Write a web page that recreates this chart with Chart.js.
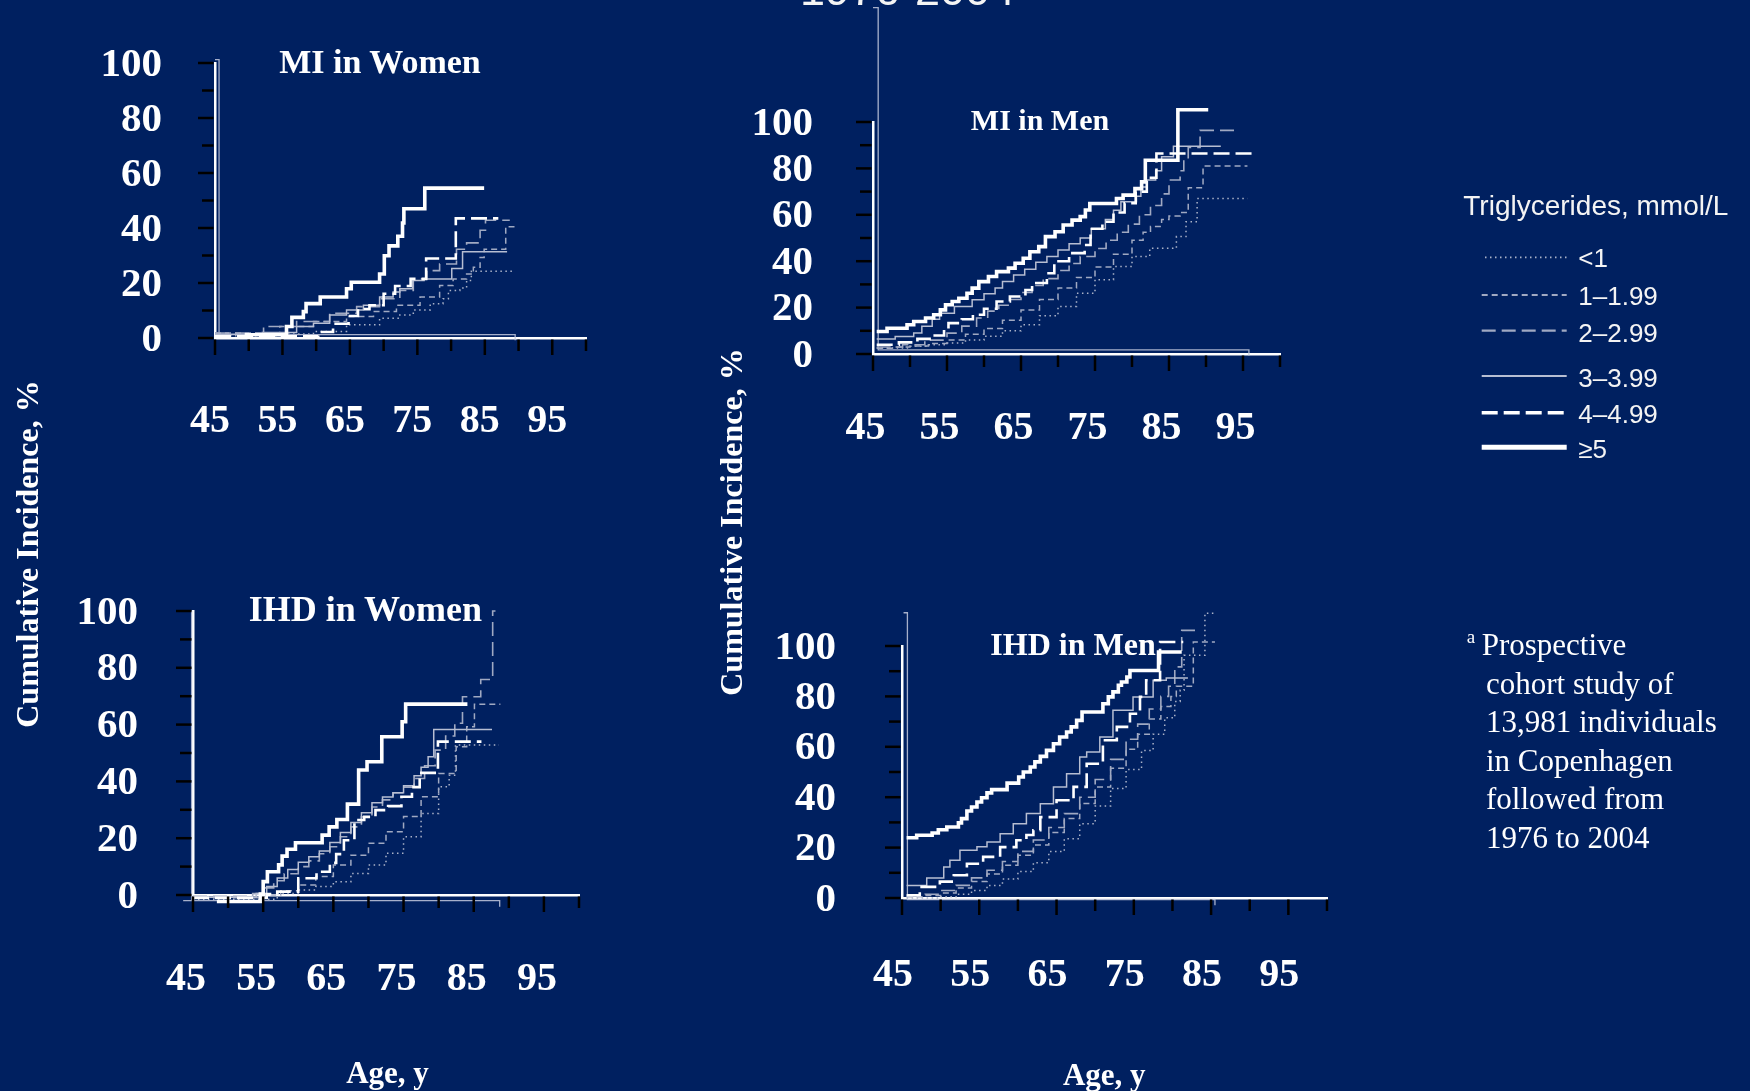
<!DOCTYPE html>
<html>
<head>
<meta charset="utf-8">
<title>Cumulative incidence of MI and IHD by triglyceride level</title>
<script src="https://cdn.jsdelivr.net/npm/chart.js@4.4.1/dist/chart.umd.min.js"></script>
<style>
  html, body { margin: 0; padding: 0; background: #002060; width: 1750px; height: 1091px; overflow: hidden; }
  canvas { position: absolute; }
  #overlay { position: absolute; left: 0; top: 0; pointer-events: none; }
  .serif { font-family: 'Liberation Serif', 'Times New Roman', serif; fill: #ffffff; }
  .bold { font-weight: bold; }
  .sans { font-family: 'Liberation Sans', Arial, sans-serif; fill: #f4f4f4; }
</style>
</head>
<body>
<canvas id="miWomen"></canvas>
<canvas id="miMen"></canvas>
<canvas id="ihdWomen"></canvas>
<canvas id="ihdMen"></canvas>

<svg id="overlay" width="1750" height="1091" viewBox="0 0 1750 1091">
  <text class="sans" x="907.5" y="5" font-size="45" text-anchor="middle">1976-2004</text>

  <text class="serif bold" x="380" y="72.7" font-size="34" text-anchor="middle">MI in Women</text>
  <text class="serif bold" x="1040" y="130" font-size="30" text-anchor="middle">MI in Men</text>
  <text class="serif bold" x="365.4" y="620.7" font-size="36" text-anchor="middle">IHD in Women</text>
  <text class="serif bold" x="1073" y="655" font-size="32" text-anchor="middle">IHD in Men</text>

  <text class="serif bold" font-size="32" text-anchor="middle" transform="translate(37.5,554) rotate(-90)">Cumulative Incidence, %</text>
  <text class="serif bold" font-size="32" text-anchor="middle" transform="translate(741.5,522) rotate(-90)">Cumulative Incidence, %</text>
  <text class="serif bold" x="387.5" y="1083.3" font-size="31" text-anchor="middle">Age, y</text>
  <text class="serif bold" x="1104.3" y="1085" font-size="31" text-anchor="middle">Age, y</text>

  <text class="sans" x="1463.3" y="215" font-size="28">Triglycerides, mmol/L</text>
  <g id="legendRows"></g>

  <text class="serif" x="1466.7" y="643" font-size="19">a</text>
  <text class="serif" x="1481.7" y="655" font-size="31">Prospective</text>
  <text class="serif" x="1486" y="693.5" font-size="31">cohort study of</text>
  <text class="serif" x="1486" y="732" font-size="31">13,981 individuals</text>
  <text class="serif" x="1486" y="770.5" font-size="31">in Copenhagen</text>
  <text class="serif" x="1486" y="809" font-size="31">followed from</text>
  <text class="serif" x="1486" y="847.5" font-size="31">1976 to 2004</text>
</svg>

<script>
// ---- tick labels and groups ----
const AGE_TICK_LABELS = [45, 55, 65, 75, 85, 95];
const PCT_TICK_LABELS = [0, 20, 40, 60, 80, 100];
const GROUP_NAMES = ['<1', '1\u20131.99', '2\u20132.99', '3\u20133.99', '4\u20134.99', '\u22655'];

// ---- MI in Women: [age, cumulative incidence %] ----
const miWomenLt1  = [[45,0.8],[55,1.5],[59.6,2.4],[64.5,4.8],[69.4,7.2],[72.4,8.4],[74.4,10.2],[76.9,12.5],[78.8,14.3],[79.6,17.3],[81.3,18.2],[82.3,20.9],[83.0,24.3],[89.4,24.3]];
const miWomen1to2 = [[45,1.8],[54.6,4.2],[59.6,6.0],[64.5,7.8],[68.5,9.6],[71.9,11.9],[75.4,14.9],[78.3,19.1],[80.3,21.5],[82.3,23.3],[83.3,25.7],[84.3,29.3],[84.9,32.3],[88.1,40.5],[89.4,40.5]];
const miWomen2to3 = [[45,1.8],[52.2,4.2],[57.1,6.0],[62.0,9.0],[66.0,11.4],[69.4,14.3],[72.4,17.3],[74.4,21.5],[76.4,24.5],[78.3,26.9],[80.8,32.3],[82.3,34.6],[84.3,39.2],[85.1,42.8],[88.7,42.8]];
const miWomen3to4 = [[45,1.4],[52,2.0],[57.1,4.2],[59.6,5.4],[62.0,8.4],[64.5,10.2],[67.0,11.9],[69.4,14.9],[71.4,16.7],[72.4,17.9],[74.3,20.9],[76.0,21.5],[80.1,25.3],[81.7,31.4],[88.3,31.4]];
const miWomen4to5 = [[45,0.6],[60.3,2.2],[62.5,5.2],[64.8,8.0],[66.2,10.5],[67.9,11.9],[70.0,16.1],[71.7,18.9],[74.0,21.5],[76.3,28.9],[80.7,43.5],[87.0,43.5]];
const miWomenGe5  = [[49.4,1.2],[55.6,4.2],[56.4,7.5],[58.1,9.6],[58.5,12.5],[60.6,14.9],[64.5,17.9],[65.2,20.3],[69.4,23.3],[70.1,29.9],[70.8,33.5],[72.1,37.0],[72.8,41.8],[73.0,47.0],[76.1,54.5],[84.9,54.5]];
const miWomenFrame = [[45.0,101.2],[45.6,101.2],[45.6,1.2],[89.5,1.2],[89.5,-0.8]];

// ---- MI in Men ----
const miMenLt1  = [[45.5,2.6],[50,3.3],[52.5,4.0],[55,4.7],[57.5,6.0],[60,7.6],[62.5,10.0],[65,12.6],[67.5,16.5],[70,20.5],[72.5,26.2],[75,32.0],[77.5,37.7],[80,42.0],[82.4,45.6],[86.0,50.6],[87.3,57.0],[88.8,67.0],[95.6,67.0]];
const miMen1to2 = [[45.5,2.5],[48,3.0],[50,3.5],[52.5,4.5],[55,6.0],[57.5,8.5],[60,11.0],[62.5,14.5],[65,19.0],[67.5,23.5],[70,28.5],[72.5,33.0],[75,37.5],[77.5,43.0],[80,49.0],[81.5,52.5],[82.5,55.0],[84,58.0],[85,59.5],[86.5,61.0],[87.6,71.7],[89.6,81.0],[95.6,81.0]];
const miMen2to3 = [[45.5,3.0],[49,4.0],[52,6.0],[55,9.0],[57,12.0],[59,15.5],[60.5,18.5],[62,21.0],[63.5,23.5],[65,26.5],[66.5,29.5],[68,32.5],[70,36.0],[71.5,39.0],[73,42.0],[75,45.5],[76.5,49.0],[78,52.5],[79.5,56.0],[81,60.0],[82.5,64.0],[84,69.0],[85,75.0],[86.5,79.0],[87,84.0],[87.6,89.0],[89.2,96.4],[94.0,96.4]];
const miMen3to4 = [[45.5,6.5],[48,7.5],[50.5,9],[51.6,12],[53,15],[54,17.6],[56,20.5],[58.4,23.4],[60,26],[61.5,28.5],[62.5,31.2],[64,34],[65.5,36.5],[67,39.5],[68.5,42],[70,44.8],[71.5,47.5],[73,50],[74.5,54],[76.4,58],[77.5,62],[78.5,65.6],[80.6,68],[81.2,72],[82,75],[83.2,79],[84,85],[85.6,89.5],[92,89.5]];
const miMen4to5 = [[45.5,4.0],[48.5,5.0],[51,6.5],[53,8.0],[54.6,10.5],[55.2,13.3],[57,15.0],[58.5,16.9],[60,19.5],[61.7,22.6],[63.5,24.8],[65.6,27.6],[66.5,30.6],[68.5,34.8],[69.5,40.0],[71.5,43.5],[73.6,47.0],[74.4,54.0],[76,57.0],[77.5,61.0],[79,65.0],[80.5,70.0],[82,76.0],[83.3,86.4],[96.3,86.4]];
const miMenGe5  = [[45.5,9.7],[46.9,11.1],[49.6,12.6],[50.5,14.0],[52.1,15.5],[53.2,16.9],[54.1,19.0],[54.8,21.2],[55.7,22.6],[56.6,24.0],[57.7,26.2],[58.4,28.4],[59.3,31.2],[60.6,33.4],[61.7,35.5],[63.3,37.0],[64.2,39.1],[65.3,41.3],[66.2,44.1],[67.4,46.3],[68.3,50.6],[69.6,52.7],[70.7,55.6],[71.9,57.7],[73.0,59.2],[73.7,62.1],[74.3,64.9],[77.9,67.0],[78.8,68.5],[80.4,71.3],[81.3,74.2],[81.8,83.5],[86.2,105.3],[90.3,105.3]];
const miMenFrame = [[45.0,149.3],[45.7,149.3],[45.7,1.8],[95.8,1.8],[95.8,-0.7]];

// ---- IHD in Women ----
const ihdWomenLt1  = [[45,-1.5],[57,0.5],[60,1.8],[62.5,3.0],[65,4.7],[67.5,7.6],[70,10.6],[72.5,14.7],[75,20.5],[77.5,28.7],[80,38.1],[81.5,42.2],[82.4,52.8],[88.6,52.8]];
const ihdWomen1to2 = [[45,-1.0],[55,0.0],[57.5,1.5],[60,3.5],[62.5,6.5],[65,10.6],[67.5,14.0],[70,18.2],[72.5,22.3],[75,27.6],[77.5,34.6],[80,42.8],[82.5,52.2],[84,59.2],[85.1,67.2],[88.8,67.2]];
const ihdWomen2to3 = [[45,-0.5],[53.5,0.5],[55,2.5],[56.5,5.0],[58,7.5],[60,10.0],[61.5,12.0],[63,14.5],[64.5,17.0],[66,20.5],[67.5,24.0],[69,27.5],[70.5,31.0],[72,33.5],[73.5,36.0],[75,38.0],[76.5,41.0],[78,45.5],[79.5,51.0],[81,56.0],[82.3,60.5],[83.4,69.8],[86.0,75.9],[87.7,100],[88.1,100]];
const ihdWomen3to4 = [[45,-0.8],[54,0.5],[55.5,3.0],[57,6.0],[58.5,9.0],[60,11.5],[61.5,13.5],[63,15.5],[64.5,18.5],[66,22.0],[67.5,25.5],[69,29.0],[70.5,32.5],[72,34.5],[73.5,36.0],[75,38.5],[76.5,42.0],[77.5,45.0],[78.5,48.7],[79.3,58.3],[87.6,58.3]];
const ihdWomen4to5 = [[45,-1.0],[55.5,0.3],[57.0,1.2],[60.0,5.9],[62.6,8.2],[64.5,11.3],[65.4,14.4],[66.5,19.3],[68.0,26.4],[69.4,27.5],[71.0,29.9],[72.8,31.3],[74.7,34.6],[76.2,38.0],[77.3,43.0],[79.9,54.0],[86.1,54.0]];
const ihdWomenGe5  = [[48.4,-2.3],[54.6,0.3],[55.0,4.7],[55.6,8.2],[57.2,10.6],[57.7,13.7],[58.4,16.1],[59.6,18.4],[63.4,21.1],[64.4,24.0],[65.5,26.6],[67.0,32.0],[68.6,44.0],[69.8,46.9],[71.9,55.7],[74.8,61.0],[75.3,67.2],[84.1,67.2]];
const ihdWomenFrame = [[44.8,100.2],[44.8,-2.0],[43.6,-2.0],[88.7,-2.0],[88.7,-4.1]];

// ---- IHD in Men ----
const ihdMenLt1  = [[45.6,0.0],[50,0.5],[52,1.5],[54,3.0],[56,5.0],[58,7.5],[60,10.5],[62,14.0],[64,18.5],[66,23.5],[68,29.5],[70,36.5],[72,43.5],[74,51.0],[76,58.5],[77.5,65.0],[79,71.5],[80.3,78.0],[81.0,82.4],[81.5,96.3],[84.2,113.0],[85.5,113.0]];
const ihdMen1to2 = [[45.6,0.5],[48,1.0],[50,2.0],[52,4.0],[54,6.5],[56,9.5],[58,13.0],[60,17.0],[62,21.0],[64,26.0],[66,31.5],[68,37.5],[70,44.0],[72,51.5],[74,59.0],[75.5,65.0],[77,71.0],[78.5,76.0],[79.8,80.0],[80.5,84.0],[82.7,101.6],[85.5,101.6]];
const ihdMen2to3 = [[45.6,0.8],[48,1.5],[50,3.0],[52,5.0],[54,8.0],[56,11.0],[58,14.5],[60,18.5],[62,23.0],[64,28.0],[66,33.5],[68,40.0],[70,47.0],[72,55.0],[74,63.0],[75.5,69.0],[77,75.0],[78.5,80.0],[79.5,84.0],[80.3,91.7],[81.2,106.2],[83.1,106.2]];
const ihdMen3to4 = [[45.6,5.0],[48.2,7.9],[50.4,12.3],[51.2,15.0],[52.5,18.9],[54.7,20.3],[56.0,22.2],[57.7,25.5],[59.4,29.5],[61.1,33.5],[62.9,37.4],[64.6,44.0],[66.3,49.3],[68.0,56.0],[68.9,57.9],[70.6,63.9],[72.3,74.5],[74.9,79.8],[77.5,86.4],[79.2,87.3],[82.0,87.3]];
const ihdMen4to5 = [[45.6,1.1],[47.3,4.4],[49.9,6.5],[51.7,9.0],[53.4,13.6],[55.5,16.3],[57.7,20.2],[59.8,22.9],[61.1,25.0],[62.0,26.9],[62.9,32.1],[65.0,38.8],[67.2,44.1],[68.9,53.3],[71.0,62.6],[72.8,67.9],[74.5,73.1],[75.8,79.8],[76.6,86.4],[78.4,101.6],[81.4,101.6]];
const ihdMenGe5  = [[45.6,23.9],[46.9,24.9],[48.9,25.8],[49.7,27.1],[50.8,28.2],[52.3,29.8],[52.7,31.5],[53.4,34.5],[54.0,36.1],[54.7,38.1],[55.3,39.8],[56.0,41.7],[56.6,43.0],[58.6,45.6],[60.1,48.0],[60.7,50.0],[61.6,52.0],[62.2,54.0],[62.9,56.2],[63.7,58.6],[64.6,61.2],[65.4,63.9],[66.3,65.9],[66.9,67.9],[67.6,70.5],[68.3,73.8],[71.0,77.1],[71.7,79.8],[72.3,81.8],[73.0,84.4],[73.4,85.7],[74.1,87.7],[74.5,90.3],[78.2,97.6],[81.2,97.6]];
const ihdMenFrame = [[45.2,113.2],[45.7,113.2],[45.7,-0.6],[85.5,-0.6],[85.5,-2.9]];

// ---- line styles per triglyceride group (plot and legend) ----
const GROUP_STYLES = [
  { color: '#aab2c8', width: 1.5, dash: [1.5, 3.5], legendWidth: 1.8 },
  { color: '#a0a9c2', width: 1.5, dash: [6, 4],     legendWidth: 2.2 },
  { color: '#a0a9c2', width: 1.6, dash: [14, 6],    legendWidth: 2.2 },
  { color: '#b7bed2', width: 1.5, dash: [],         legendWidth: 2.2 },
  { color: '#ffffff', width: 2.6, dash: [16, 6],    legendWidth: 3.5 },
  { color: '#ffffff', width: 3.6, dash: [],         legendWidth: 5 }
];
const FRAME_STYLE = { color: 'rgba(196,202,222,0.85)', width: 1.3 };

// legend row geometry (line y, text baseline)
const LEGEND_ROWS = [
  { lineY: 257.3, textY: 267.3, x1: 1485 },
  { lineY: 295.0, textY: 305.0, x1: 1481.7 },
  { lineY: 330.7, textY: 341.7, x1: 1481.7 },
  { lineY: 376.0, textY: 386.7, x1: 1481.7 },
  { lineY: 412.7, textY: 423.3, x1: 1481.7 },
  { lineY: 447.3, textY: 458.3, x1: 1481.7 }
];

// ---- panel layout (plot-area rectangle in page pixels, label paddings) ----
const PANELS = [
  { id: 'miWomen',  series: [miWomenLt1, miWomen1to2, miWomen2to3, miWomen3to4, miWomen4to5, miWomenGe5], frame: miWomenFrame,
    area: { l: 215, t: 63,  r: 586,  b: 338 }, roomTop: 63,  yW: 175, xH: 120, xPad: 60, yPad: 53, xShift: -5 },
  { id: 'miMen',    series: [miMenLt1, miMen1to2, miMen2to3, miMen3to4, miMen4to5, miMenGe5], frame: miMenFrame,
    area: { l: 873, t: 122, r: 1280, b: 354 }, roomTop: 122, yW: 175, xH: 120, xPad: 51, yPad: 60, xShift: -7.5 },
  { id: 'ihdWomen', series: [ihdWomenLt1, ihdWomen1to2, ihdWomen2to3, ihdWomen3to4, ihdWomen4to5, ihdWomenGe5], frame: ihdWomenFrame,
    area: { l: 193, t: 611, r: 579,  b: 895 }, roomTop: 60,  yW: 170, xH: 110, xPad: 61, yPad: 55, xShift: -7 },
  { id: 'ihdMen',   series: [ihdMenLt1, ihdMen1to2, ihdMen2to3, ihdMen3to4, ihdMen4to5, ihdMenGe5], frame: ihdMenFrame,
    area: { l: 902, t: 646, r: 1327, b: 898 }, roomTop: 60,  yW: 175, xH: 110, xPad: 54, yPad: 66, xShift: -9 }
];

const SERIF = "'Liberation Serif', 'Times New Roman', serif";
const LABEL_LINE = 1.2;

// black major/minor tick marks hanging off both axes
const tickMarks = {
  id: 'tickMarks',
  afterDraw(chart) {
    const { ctx } = chart;
    const xs = chart.scales.x, ys = chart.scales.y;
    ctx.save();
    ctx.strokeStyle = '#000000';
    ctx.lineWidth = 2.5;
    ctx.lineCap = 'butt';
    xs.ticks.forEach(t => {
      const px = xs.getPixelForValue(t.value);
      const len = AGE_TICK_LABELS.includes(t.value) ? 17 : 13;
      ctx.beginPath();
      ctx.moveTo(px, xs.top + 1.5);
      ctx.lineTo(px, xs.top + len);
      ctx.stroke();
    });
    ys.ticks.forEach(t => {
      const py = ys.getPixelForValue(t.value);
      const len = PCT_TICK_LABELS.includes(t.value) ? 17 : 13;
      ctx.beginPath();
      ctx.moveTo(ys.right - 1.5, py);
      ctx.lineTo(ys.right - len, py);
      ctx.stroke();
    });
    ctx.restore();
  }
};

const toPoints = pairs => pairs.map(([x, y]) => ({ x, y }));

PANELS.forEach(p => {
  // the layout padding must exceed the scales' own label overhang so the plot area lands exactly
  const padTop = Math.max(p.roomTop, p.yPad + 32);
  const padRight = p.xPad + 10;
  const cv = document.getElementById(p.id);
  const w = p.yW + (p.area.r - p.area.l) + padRight;
  const h = padTop + (p.area.b - p.area.t) + p.xH;
  cv.width = w; cv.height = h;
  cv.style.width = w + 'px'; cv.style.height = h + 'px';
  cv.style.left = (p.area.l - p.yW) + 'px';
  cv.style.top = (p.area.t - padTop) + 'px';

  const datasets = p.series.map((pairs, i) => ({
    label: GROUP_NAMES[i],
    data: toPoints(pairs),
    stepped: 'before',
    borderColor: GROUP_STYLES[i].color,
    borderWidth: GROUP_STYLES[i].width,
    borderDash: GROUP_STYLES[i].dash,
    borderCapStyle: 'butt',
    borderJoinStyle: 'miter',
    pointRadius: 0,
    fill: false,
    clip: false,
    order: 5 - i
  }));
  datasets.push({
    label: 'frame',
    data: toPoints(p.frame),
    borderColor: FRAME_STYLE.color,
    borderWidth: FRAME_STYLE.width,
    pointRadius: 0,
    fill: false,
    clip: false,
    order: 9
  });

  new Chart(cv, {
    type: 'line',
    data: { datasets },
    plugins: [tickMarks],
    options: {
      responsive: false,
      animation: false,
      devicePixelRatio: 1,
      events: [],
      layout: { padding: { top: padTop, right: padRight, left: 0, bottom: 0 } },
      plugins: { legend: { display: false }, tooltip: { enabled: false }, title: { display: false } },
      scales: {
        x: {
          type: 'linear', min: 45, max: 100,
          grid: { display: false, drawTicks: false },
          border: { display: true, color: '#ffffff', width: 2.5 },
          ticks: {
            stepSize: 5, maxTicksLimit: 20, autoSkip: false, maxRotation: 0, minRotation: 0,
            padding: p.xPad, labelOffset: p.xShift, color: '#ffffff',
            font: { family: SERIF, size: 40, weight: 'bold', lineHeight: LABEL_LINE },
            callback: v => AGE_TICK_LABELS.includes(v) ? String(v) : ''
          },
          afterFit: s => { s.height = p.xH; }
        },
        y: {
          type: 'linear', min: 0, max: 100,
          grid: { display: false, drawTicks: false },
          border: { display: true, color: '#ffffff', width: 2.5 },
          ticks: {
            stepSize: 10, maxTicksLimit: 20, autoSkip: false,
            padding: p.yPad, labelOffset: 2, color: '#ffffff',
            font: { family: SERIF, size: 41, weight: 'bold', lineHeight: LABEL_LINE },
            callback: v => PCT_TICK_LABELS.includes(v) ? String(v) : ''
          },
          afterFit: s => { s.width = p.yW; }
        }
      }
    }
  });
});

// legend rows: sample line + group name
(function buildLegend() {
  const NS = 'http://www.w3.org/2000/svg';
  const g = document.getElementById('legendRows');
  GROUP_NAMES.forEach((name, i) => {
    const st = GROUP_STYLES[i], row = LEGEND_ROWS[i];
    const ln = document.createElementNS(NS, 'line');
    ln.setAttribute('x1', row.x1); ln.setAttribute('x2', 1566.7);
    ln.setAttribute('y1', row.lineY); ln.setAttribute('y2', row.lineY);
    ln.setAttribute('stroke', st.color);
    ln.setAttribute('stroke-width', st.legendWidth);
    if (st.dash.length) ln.setAttribute('stroke-dasharray', st.dash.join(' '));
    g.appendChild(ln);
    const tx = document.createElementNS(NS, 'text');
    tx.setAttribute('class', 'sans');
    tx.setAttribute('x', 1578.3);
    tx.setAttribute('y', row.textY);
    tx.setAttribute('font-size', 26);
    tx.textContent = name;
    g.appendChild(tx);
  });
})();
</script>
</body>
</html>
